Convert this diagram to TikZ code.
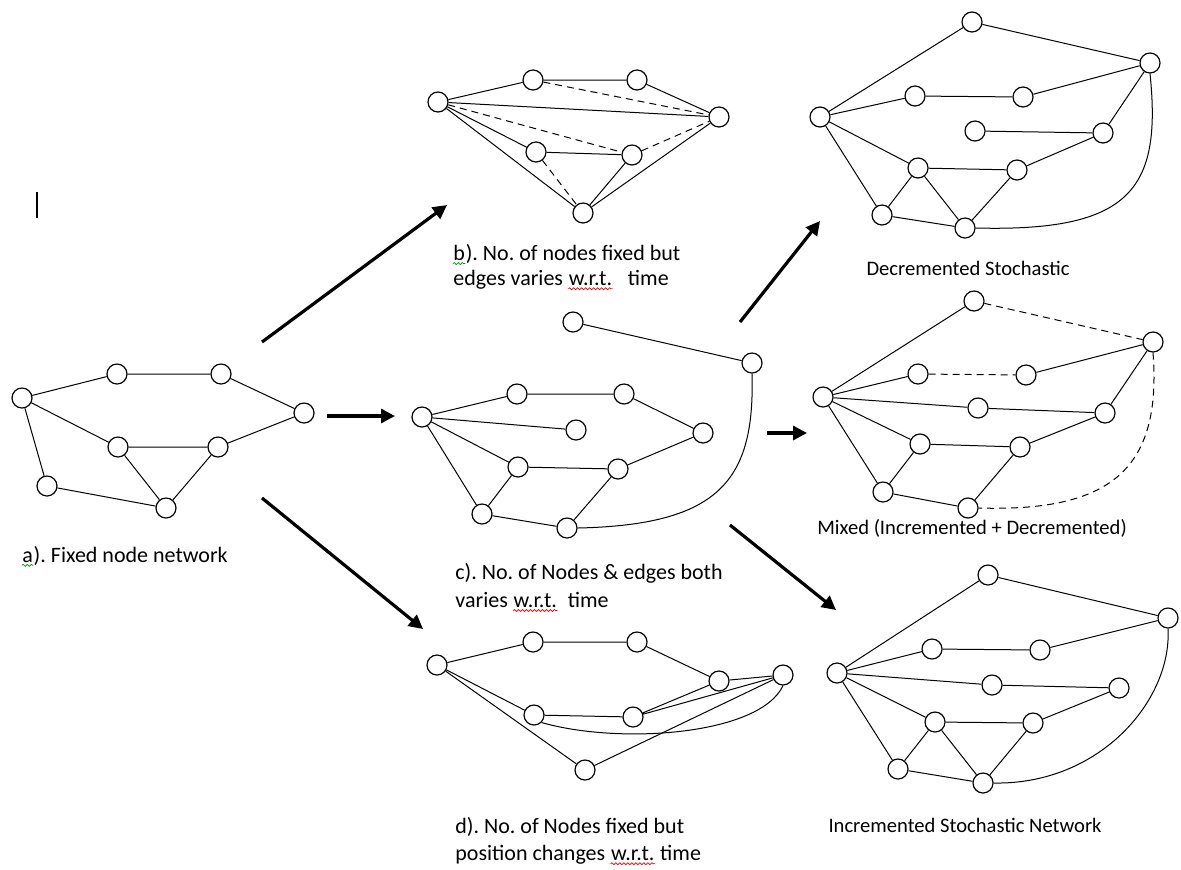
\documentclass[tikz,border=0pt]{standalone}
\usepackage{fontspec}
\setmainfont{Carlito}
\usetikzlibrary{arrows.meta,decorations.pathmorphing}
\frenchspacing
\begin{document}
\begin{tikzpicture}[x=0.5pt,y=-0.5pt,
  vert/.style={circle,draw,line width=0.6pt,minimum size=10pt,inner sep=0pt,fill=white},
  edge/.style={line width=0.5pt},
  dedge/.style={edge,dash pattern=on 3.5pt off 2.5pt},
  bigarrow/.style={line width=1.6pt,-{Triangle[length=7pt,width=7pt]}},
  lbl/.style={anchor=west,inner sep=0pt,font=\fontsize{11}{13}\selectfont},
  lblc/.style={anchor=base west,inner sep=0pt,font=\fontsize{11}{13}\selectfont},
  rlbl/.style={anchor=center,inner sep=0pt,font=\fontsize{10.3}{12}\selectfont},
  squig/.style={line width=0.35pt,decorate,decoration={snake,segment length=2pt,amplitude=0.5pt}}]
\useasboundingbox (0,0) rectangle (1181,869);

% cursor mark
\draw[line width=1.3pt] (37,192) -- (37,218);

% ---------- graph a ----------
\node[vert] (A1) at (22,398) {};
\node[vert] (A2) at (117,374) {};
\node[vert] (A3) at (221,374) {};
\node[vert] (A4) at (304,413) {};
\node[vert] (A5) at (118,447) {};
\node[vert] (A6) at (218,447) {};
\node[vert] (A7) at (47,486) {};
\node[vert] (A8) at (166,508) {};
\draw[edge] (A1)--(A2) (A2)--(A3) (A3)--(A4) (A4)--(A6) (A5)--(A6) (A1)--(A5)
  (A1)--(A7) (A7)--(A8) (A5)--(A8) (A6)--(A8);
\node[lbl] (La1) at (22,557) {a};
\node[lblc] (La2) at (La1.base east) {). Fixed node network};
\draw[squig,green!60!black] ([yshift=-1.5pt]La1.base west) -- ([yshift=-1.5pt]La1.base east);

% ---------- graph b ----------
\node[vert] (B1) at (438,102) {};
\node[vert] (B2) at (533,80) {};
\node[vert] (B3) at (637,80) {};
\node[vert] (B4) at (719,117) {};
\node[vert] (B5) at (536,152) {};
\node[vert] (B6) at (632,155) {};
\node[vert] (B7) at (583,213) {};
\draw[edge] (B1)--(B2) (B2)--(B3) (B3)--(B4) (B1)--(B4) (B1)--(B5) (B5)--(B6)
  (B1)--(B7) (B6)--(B7) (B7)--(B4);
\draw[dedge] (B2)--(B4) (B1)--(B6) (B6)--(B4) (B5)--(B7);
\node[lbl] (Lb1) at (453,253) {b};
\node[lblc] (Lb1b) at (Lb1.base east) {). No. of nodes fixed but};
\draw[squig,green!60!black] ([yshift=-1.5pt]Lb1.base west) -- ([yshift=-1.5pt]Lb1.base east);
\node[lbl] (Lb2) at (453,280) {edges varies};
\node[lblc] (Lb2w) at ([xshift=2.5pt]Lb2.base east) {w.r.t.};
\node[lblc] (Lb2t) at ([xshift=7.5pt]Lb2w.base east) {time};
\draw[squig,red] ([yshift=-1.5pt]Lb2w.base west) -- ([yshift=-1.5pt]Lb2w.base east);

% ---------- graph c ----------
\node[vert] (C1) at (422,417) {};
\node[vert] (C2) at (517,394) {};
\node[vert] (C3) at (624,394) {};
\node[vert] (C4) at (576,430) {};
\node[vert] (C5) at (703,433) {};
\node[vert] (C6) at (518,467) {};
\node[vert] (C7) at (618,469) {};
\node[vert] (C8) at (482,514) {};
\node[vert] (C9) at (567,528) {};
\node[vert] (C10) at (573,322) {};
\node[vert] (C11) at (752,363) {};
\draw[edge] (C10)--(C11) (C1)--(C2) (C2)--(C3) (C3)--(C5) (C1)--(C4) (C1)--(C6)
  (C6)--(C7) (C7)--(C5) (C1)--(C8) (C8)--(C6) (C8)--(C9) (C9)--(C7);
\draw[edge] (C11.south) .. controls (755,480) and (720,525) .. (C9.east);
\node[lbl] (Lc1) at (455,573) {c). No. of Nodes \& edges both};
\node[lbl] (Lc2) at (455,600) {varies};
\node[lblc] (Lc2w) at ([xshift=2.5pt]Lc2.base east) {w.r.t.};
\node[lblc] (Lc2t) at ([xshift=5pt]Lc2w.base east) {time};
\draw[squig,red] ([yshift=-1.5pt]Lc2w.base west) -- ([yshift=-1.5pt]Lc2w.base east);

% ---------- graph d ----------
\node[vert] (D1) at (437,665) {};
\node[vert] (D2) at (533,642) {};
\node[vert] (D3) at (637,642) {};
\node[vert] (D4) at (719,681) {};
\node[vert] (D5) at (783,675) {};
\node[vert] (D6) at (534,715) {};
\node[vert] (D7) at (633,717) {};
\node[vert] (D8) at (585,770) {};
\draw[edge] (D1)--(D2) (D2)--(D3) (D3)--(D4) (D4)--(D5) (D1)--(D6) (D6)--(D7)
  (D7)--(D4) (D7)--(D5) (D1)--(D8) (D8)--(D5);
\draw[edge] (D6.south east) .. controls (620,745) and (760,735) .. (D5.south);
\node[lbl] (Ld1) at (455,827) {d). No. of Nodes fixed but};
\node[lbl] (Ld2) at (455,855) {position changes};
\node[lblc] (Ld2w) at ([xshift=2.5pt]Ld2.base east) {w.r.t.};
\node[lblc] (Ld2t) at ([xshift=2.5pt]Ld2w.base east) {time};
\draw[squig,red] ([yshift=-1.5pt]Ld2w.base west) -- ([yshift=-1.5pt]Ld2w.base east);

% ---------- decremented ----------
\node[vert] (E1) at (972,22) {};
\node[vert] (E2) at (1150,63) {};
\node[vert] (E3) at (820,117) {};
\node[vert] (E4) at (915,96) {};
\node[vert] (E5) at (1023,97) {};
\node[vert] (E6) at (975,131) {};
\node[vert] (E7) at (1103,133) {};
\node[vert] (E8) at (918,168) {};
\node[vert] (E9) at (1017,170) {};
\node[vert] (E10) at (882,215) {};
\node[vert] (E11) at (965,228) {};
\draw[edge] (E3)--(E1) (E1)--(E2) (E3)--(E4) (E4)--(E5) (E5)--(E2) (E6)--(E7)
  (E7)--(E2) (E3)--(E8) (E8)--(E9) (E9)--(E7) (E3)--(E10) (E10)--(E8)
  (E8)--(E11) (E10)--(E11) (E11)--(E9);
\draw[edge] (E2.south) .. controls (1162,190) and (1130,232) .. (E11.east);
\node[rlbl] (Le) at (968,268) {Decremented Stochastic};

% ---------- mixed ----------
\node[vert] (M1) at (974,301) {};
\node[vert] (M2) at (1153,342) {};
\node[vert] (M3) at (823,397) {};
\node[vert] (M4) at (918,374) {};
\node[vert] (M5) at (1026,375) {};
\node[vert] (M6) at (978,408) {};
\node[vert] (M7) at (1105,413) {};
\node[vert] (M8) at (920,444) {};
\node[vert] (M9) at (1020,447) {};
\node[vert] (M10) at (883,492) {};
\node[vert] (M11) at (968,508) {};
\draw[edge] (M3)--(M1) (M3)--(M4) (M5)--(M2) (M3)--(M6) (M6)--(M7) (M7)--(M2)
  (M3)--(M8) (M8)--(M9) (M9)--(M7) (M3)--(M10) (M10)--(M8) (M10)--(M11) (M11)--(M9);
\draw[dedge] (M1)--(M2) (M4)--(M5);
\draw[dedge] (M2.south) .. controls (1162,470) and (1110,512) .. (M11.east);
\node[rlbl] (Lm) at (972,528) {Mixed (Incremented + Decremented)};

% ---------- incremented ----------
\node[vert] (I1) at (988,575) {};
\node[vert] (I2) at (1168,618) {};
\node[vert] (I3) at (837,673) {};
\node[vert] (I4) at (932,649) {};
\node[vert] (I5) at (1040,650) {};
\node[vert] (I6) at (992,685) {};
\node[vert] (I7) at (1119,688) {};
\node[vert] (I8) at (935,722) {};
\node[vert] (I9) at (1033,723) {};
\node[vert] (I10) at (898,769) {};
\node[vert] (I11) at (983,783) {};
\draw[edge] (I3)--(I1) (I1)--(I2) (I3)--(I4) (I4)--(I5) (I5)--(I2) (I3)--(I6)
  (I6)--(I7) (I3)--(I8) (I8)--(I9) (I9)--(I7) (I3)--(I10) (I10)--(I8)
  (I8)--(I11) (I10)--(I11) (I11)--(I9);
\draw[edge] (I2.south) .. controls (1172,700) and (1100,785) .. (I11.east);
\node[rlbl] (Li) at (965,825) {Incremented Stochastic Network};

% ---------- arrows ----------
\coordinate (ab0) at (262,342); \coordinate (ab1) at (447,205);
\coordinate (ac0) at (327,416); \coordinate (ac1) at (395,416);
\coordinate (ad0) at (262,498); \coordinate (ad1) at (423,629);
\coordinate (ce0) at (740,322); \coordinate (ce1) at (820,221);
\coordinate (cm0) at (767,433); \coordinate (cm1) at (807,433);
\coordinate (ci0) at (730,525); \coordinate (ci1) at (836,610);
\draw[bigarrow] (ab0) -- (ab1);
\draw[bigarrow] (ac0) -- (ac1);
\draw[bigarrow] (ad0) -- (ad1);
\draw[bigarrow] (ce0) -- (ce1);
\draw[bigarrow] (cm0) -- (cm1);
\draw[bigarrow] (ci0) -- (ci1);
\end{tikzpicture}
\end{document}
